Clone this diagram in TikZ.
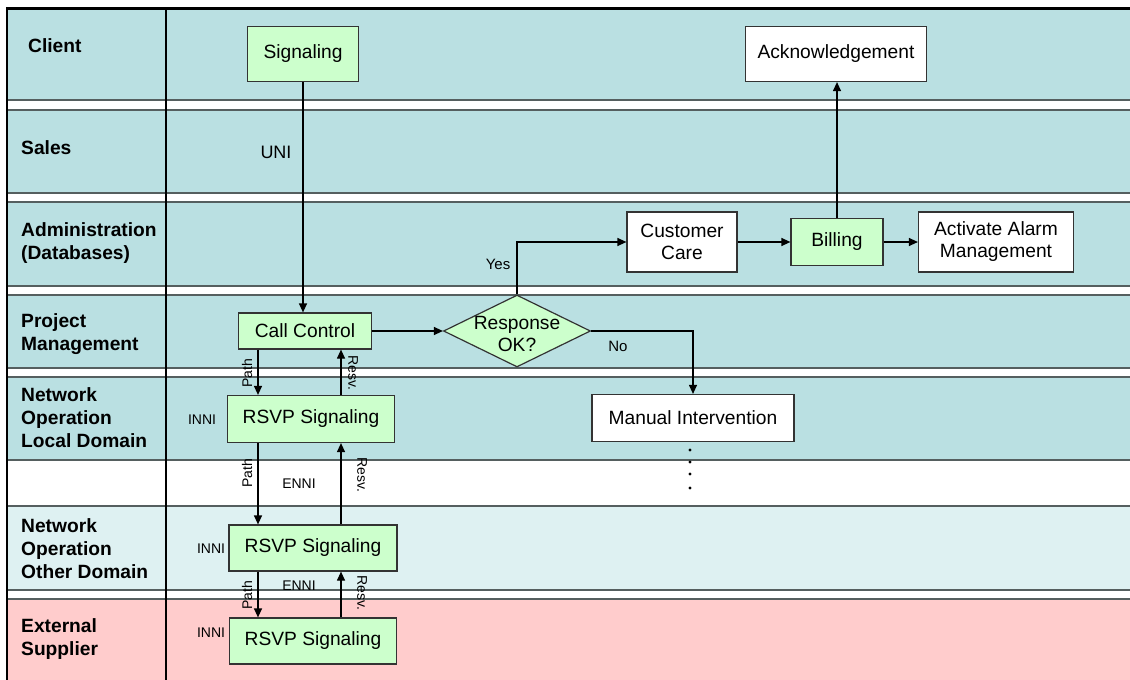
\documentclass[tikz,border=0pt]{standalone}
\usepackage{fontspec}
\setmainfont{Liberation Sans}
\usetikzlibrary{shapes.geometric,arrows.meta}
\definecolor{laneblue}{RGB}{186,224,226}
\definecolor{lanelight}{RGB}{222,241,242}
\definecolor{lanepink}{RGB}{255,204,204}
\definecolor{boxgreen}{RGB}{204,255,204}
\definecolor{lanerule}{RGB}{85,95,95}
\newcommand\bxfont{\fontsize{19.2}{22}\selectfont}
\newcommand\lanefont{\fontsize{19.2}{23}\selectfont\bfseries}
\newcommand\smfont{\fontsize{14}{16}\selectfont}
\begin{document}
\begin{tikzpicture}[x=1pt,y=-1pt,
  gbox/.style={draw=black!80, line width=1.2pt, fill=boxgreen, font=\bxfont, inner sep=0pt, align=center},
  wbox/.style={draw=black!80, line width=1.2pt, fill=white, font=\bxfont, inner sep=0pt, align=center},
  dia/.style={diamond, draw=black!80, line width=1.2pt, fill=boxgreen, inner sep=0pt},
  lanelab/.style={anchor=west, align=left, font=\lanefont, inner sep=0pt},
  small/.style={font=\smfont, inner sep=0pt},
  arr/.style={draw=black, line width=1.2pt, -{Triangle[length=9pt,width=8pt]}},
  lrule/.style={draw=lanerule, line width=1.4pt}]
\useasboundingbox (0,0) rectangle (1130,680);
\fill[white] (0,0) rectangle (1130,680);
% lanes
\fill[laneblue] (7,8) rectangle (1130,100);
\fill[laneblue] (7,110) rectangle (1130,193);
\fill[laneblue] (7,202) rectangle (1130,286);
\fill[laneblue] (7,295) rectangle (1130,368);
\fill[laneblue] (7,377) rectangle (1130,460);
\fill[lanelight] (7,506) rectangle (1130,590);
\fill[lanepink] (7,599) rectangle (1130,680);
\foreach \yy in {100,110,193,202,286,295,368,377,460,506,590,599}
  \draw[lrule] (7,\yy) -- (1130,\yy);
\draw[black, line width=3pt] (6,8) -- (1130,8);
\draw[black, line width=2pt] (7,7) -- (7,680);
\draw[black, line width=1.3pt] (166,8) -- (166,680);
% lane labels
\node[lanelab] (lclient) at (28,46) {Client};
\node[lanelab] (lsales) at (21,148) {Sales};
\node[lanelab] (ladmin) at (21,243) {Administration\\(Databases)};
\node[lanelab] (lpm) at (21,334) {Project\\Management};
\node[lanelab] (llocal) at (21,418) {Network\\Operation\\Local Domain};
\node[lanelab] (lother) at (21,549) {Network\\Operation\\Other Domain};
\node[lanelab] (lext) at (21,639) {External\\Supplier};
% nodes
\node[gbox, minimum width=111, minimum height=55] (sig) at (303,54) {Signaling};
\node[wbox, minimum width=181, minimum height=55] (ack) at (836,54) {Acknowledgement};
\node[gbox, minimum width=133, minimum height=36] (cc) at (305,331) {Call Control};
\node[dia, minimum width=147, minimum height=72] (dec) at (517,331) {};
\node[font=\bxfont, align=center, inner sep=0pt] (dectext) at (517,334) {Response\\OK?};
\node[wbox, minimum width=110, minimum height=60] (care) at (682,242) {Customer\\Care};
\node[gbox, minimum width=92, minimum height=47] (bill) at (837,242) {Billing};
\node[wbox, minimum width=155, minimum height=60] (alarm) at (996,242) {Activate Alarm\\Management};
\node[wbox, minimum width=202, minimum height=47] (man) at (693,418) {Manual Intervention};
\node[gbox, minimum width=167, minimum height=47] (r1) at (311,419) {RSVP Signaling};
\node[gbox, minimum width=168, minimum height=46] (r2) at (313,548) {RSVP Signaling};
\node[gbox, minimum width=167, minimum height=46] (r3) at (313,641) {RSVP Signaling};
% dots
\foreach \yy in {450,462,474,488}
  \fill[black] (690,\yy) circle (1.7);
% helper coordinates
\coordinate (px) at (258,0);
\coordinate (rx) at (341,0);
% connectors
\draw[arr] (sig.south) -- (sig.south |- cc.north);
\draw[arr] (cc.east) -- (dec.west);
\draw[arr] (dec.north) |- (care.west);
\draw[arr] (care.east) -- (bill.west);
\draw[arr] (bill.east) -- (alarm.west);
\draw[arr] (bill.north) -- (bill.north |- ack.south);
\draw[arr] (dec.east) -| (man.north);
\draw[arr] (cc.south -| px) -- (r1.north -| px);
\draw[arr] (r1.south -| px) -- (r2.north -| px);
\draw[arr] (r2.south -| px) -- (r3.north -| px);
\draw[arr] (r1.north -| rx) -- (cc.south -| rx);
\draw[arr] (r2.north -| rx) -- (r1.south -| rx);
\draw[arr] (r3.north -| rx) -- (r2.south -| rx);
% labels
\node[font=\fontsize{18}{20}\selectfont, inner sep=0pt] (uni) at (276,152) {UNI};
\node[font=\fontsize{15}{17}\selectfont, inner sep=0pt] (yes) at (498,264) {Yes};
\node[font=\fontsize{15}{17}\selectfont, inner sep=0pt] (no) at (618,346) {No};
\node[small] (inni1) at (202,420) {INNI};
\node[small] (inni2) at (211,549) {INNI};
\node[small] (inni3) at (211,633) {INNI};
\node[small] (enni1) at (299,484) {ENNI};
\node[small] (enni2) at (299,586) {ENNI};
\node[small, rotate=90] (path1) at (247,373) {Path};
\node[small, rotate=90] (path2) at (247,473) {Path};
\node[small, rotate=90] (path3) at (247,595) {Path};
\node[small, rotate=-90] (resv1) at (353,373) {Resv.};
\node[small, rotate=-90] (resv2) at (362,475) {Resv.};
\node[small, rotate=-90] (resv3) at (362,593) {Resv.};
\end{tikzpicture}
\end{document}
